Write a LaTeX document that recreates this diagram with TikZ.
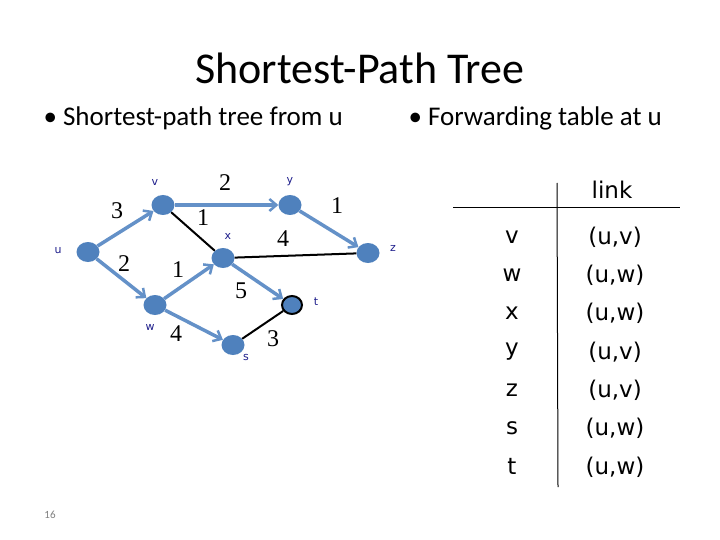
\documentclass[tikz,border=0pt]{standalone}
\usepackage{fontspec}
\setmainfont{Carlito}
\newfontfamily\tabfont{DejaVu Sans}
\newfontfamily\lblfont{DejaVu Sans}
\newfontfamily\wtfont{Liberation Serif}
\usetikzlibrary{arrows.meta,shapes.geometric}
\definecolor{nodeblue}{RGB}{79,129,189}
\definecolor{edgeblue}{RGB}{100,145,200}
\definecolor{lblblue}{RGB}{30,30,140}
\begin{document}
\begin{tikzpicture}[x=1pt,y=-1pt,
  vert/.style={ellipse,fill=nodeblue,minimum width=23pt,minimum height=20pt,inner sep=0pt},
  tedge/.style={draw=edgeblue,line width=3.5pt,-{Straight Barb[length=7pt,width=12pt,line width=2.5pt]}},
  bedge/.style={draw=black,line width=2pt},
  vlbl/.style={text=lblblue,font=\lblfont\fontsize{11}{13}\selectfont},
  wt/.style={font=\wtfont\fontsize{24}{28}\selectfont},
  tabtxt/.style={font=\tabfont\fontsize{23}{28}\selectfont},
  bullet/.style={font=\fontsize{27}{32}\selectfont,anchor=west}]
\useasboundingbox (0,0) rectangle (720,540);
\fill[white] (0,0) rectangle (720,540);
\node[font=\fontsize{44}{50}\selectfont] (title) at (360,68) {Shortest-Path Tree};
\node[bullet] (b1) at (40,118) {\textbullet\ Shortest-path tree from u};
\node[bullet] (b2) at (405,118) {\textbullet\ Forwarding table at u};
% nodes
\node[vert] (u) at (88,252) {};
\node[vert] (v) at (163,205) {};
\node[vert] (y) at (290,205) {};
\node[vert] (z) at (368,253) {};
\node[vert] (x) at (223,258) {};
\node[vert] (w) at (155,305) {};
\node[vert] (s) at (233,345) {};
\node[vert,draw=black,line width=2pt,minimum width=20pt,minimum height=18pt] (t) at (292,305) {};
% edges
\draw[bedge] (v) -- (x);
\draw[bedge] (x) -- (z);
\draw[bedge] (s) -- (t);
\draw[tedge] (u) -- (v);
\draw[tedge] (u) -- (w);
\draw[tedge] (v) -- (y);
\draw[tedge] (y) -- (z);
\draw[tedge] (w) -- (x);
\draw[tedge] (w) -- (s);
\draw[tedge] (x) -- (t);
% labels
\node[vlbl] (lv) at (155,182) {v};
\node[vlbl] (ly) at (290,182) {y};
\node[vlbl] (lx) at (228,236) {x};
\node[vlbl] (lz) at (393,248) {z};
\node[vlbl] (lu) at (58,250) {u};
\node[vlbl] (lw) at (150,327) {w};
\node[vlbl] (ls) at (246,357) {s};
\node[vlbl] (lt) at (316,302) {t};
\node[wt] (w1) at (225,183) {2};
\node[wt] (w2) at (117,211) {3};
\node[wt] (w3) at (203,218) {1};
\node[wt] (w4) at (283,239) {4};
\node[wt] (w5) at (337,206) {1};
\node[wt] (w6) at (124,264) {2};
\node[wt] (w7) at (178,270) {1};
\node[wt] (w8) at (241,291) {5};
\node[wt] (w9) at (176,334) {4};
\node[wt] (w10) at (273,339) {3};
% table
\coordinate (hl) at (453,208); \coordinate (hr) at (680,208);
\coordinate (vt) at (557,183); \coordinate (vb) at (558,487);
\draw[line width=1pt] (hl) -- (hr);
\draw[line width=1pt] (vt) -- (vb);
\node[tabtxt] (hd) at (612,190) {link};
\foreach \n/\l/\r [count=\i from 0] in {v/v/{(u,v)},w/w/{(u,w)},x/x/{(u,w)},y/y/{(u,v)},z/z/{(u,v)},s/s/{(u,w)},t/t/{(u,w)}}{
  \node[tabtxt] (d\n) at (512,237+38.3*\i) {\l};
  \node[tabtxt] (k\n) at (615,237+38.3*\i) {\r};
}
\node[text=gray,font=\fontsize{11}{13}\selectfont] (pg) at (50,515) {16};
\end{tikzpicture}
\end{document}
